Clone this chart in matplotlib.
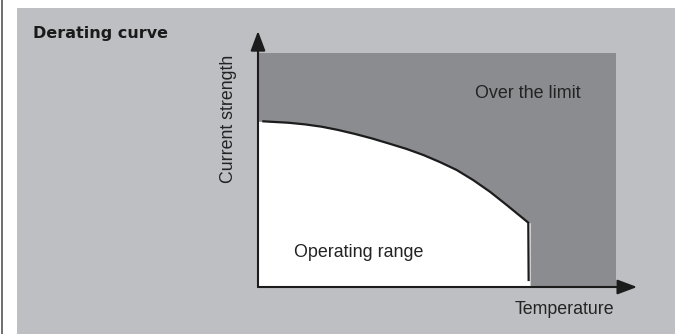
import matplotlib
matplotlib.use("Agg")
import matplotlib.pyplot as plt
from matplotlib.patches import Rectangle
from matplotlib.lines import Line2D

plt.rcParams['font.family'] = ['Liberation Sans', 'DejaVu Sans']

# Data (arbitrary units: temperature 0..100, current 0..100)
temperature = [1.5, 3.8, 8.5, 13.1, 17.8, 22.4, 27.1, 31.8, 36.4, 41.5, 46.2, 50.8,
               55.5, 60.1, 64.8, 69.5, 75.5, 75.6]
current = [70.8, 70.6, 70.2, 69.5, 68.5, 67.1, 65.4, 63.5, 61.4, 59.0, 56.4, 53.4,
           50.0, 45.7, 40.7, 35.0, 27.5, 3.0]
title = "Derating curve"
x_label = "Temperature"
y_label = "Current strength"
region_over = "Over the limit"
region_ok = "Operating range"

LIGHT = "#bebfc3"
DARK = "#8b8c90"
AXC = "#1c1c1c"
TXT = "#232323"

W, H = 675, 334
fig = plt.figure(figsize=(W / 100, H / 100), dpi=100)
fig.patch.set_facecolor("white")

# background panel and left border line
fig.add_artist(Rectangle((17 / W, 0), 1 - 17 / W, 1 - 8 / H, transform=fig.transFigure,
                         facecolor=LIGHT, edgecolor="none", zorder=0))
fig.add_artist(Line2D([1.5 / W, 1.5 / W], [0, 1], transform=fig.transFigure,
                      color="#555555", lw=1.2))

ax = fig.add_axes([258 / W, 47 / H, 358 / W, 234 / H])
ax.set_xlim(0, 100)
ax.set_ylim(0, 100)
ax.set_facecolor(DARK)
ax.set_xticks([])
ax.set_yticks([])
for s in ax.spines.values():
    s.set_visible(False)

# operating range (white)
fill_t = [0] + temperature[:-1] + [76.0]
fill_c = [current[0]] + current[:-1] + [current[-2]]
ax.fill_between(fill_t, fill_c, 0, color="white", lw=0, zorder=1)

# derating curve
ax.plot(temperature, current, color=AXC, lw=1.6, zorder=3, solid_joinstyle="round")

# axes arrows
arrow_kw = dict(arrowstyle="-|>,head_length=1.2,head_width=0.45", lw=1.5, color=AXC,
                shrinkA=0, shrinkB=0, mutation_scale=10)
ax.annotate("", xy=(105.9, 0), xytext=(0, 0), arrowprops=arrow_kw, annotation_clip=False, zorder=5)
ax.annotate("", xy=(0, 109.4), xytext=(0, 0), arrowprops=arrow_kw, annotation_clip=False, zorder=5)

# texts
fig.text(33 / W, 1 - 37.7 / H, title, fontsize=11.5, fontweight="bold", color="#1a1a1a",
         ha="left", va="baseline", family=["DejaVu Sans"])
fig.text(528 / W, 1 - 98.3 / H, region_over, fontsize=12.9, color=TXT, ha="center", va="baseline")
fig.text(294 / W, 1 - 256.7 / H, region_ok, fontsize=12.9, color=TXT, ha="left", va="baseline")
fig.text(515 / W, 1 - 314 / H, x_label, fontsize=12.8, color=TXT, ha="left", va="baseline")
fig.text(228.5 / W, 1 - 119 / H, y_label, fontsize=12.8, color=TXT, ha="center", va="center",
         rotation=90)

fig.savefig("out.png", dpi=100, facecolor=fig.get_facecolor())
